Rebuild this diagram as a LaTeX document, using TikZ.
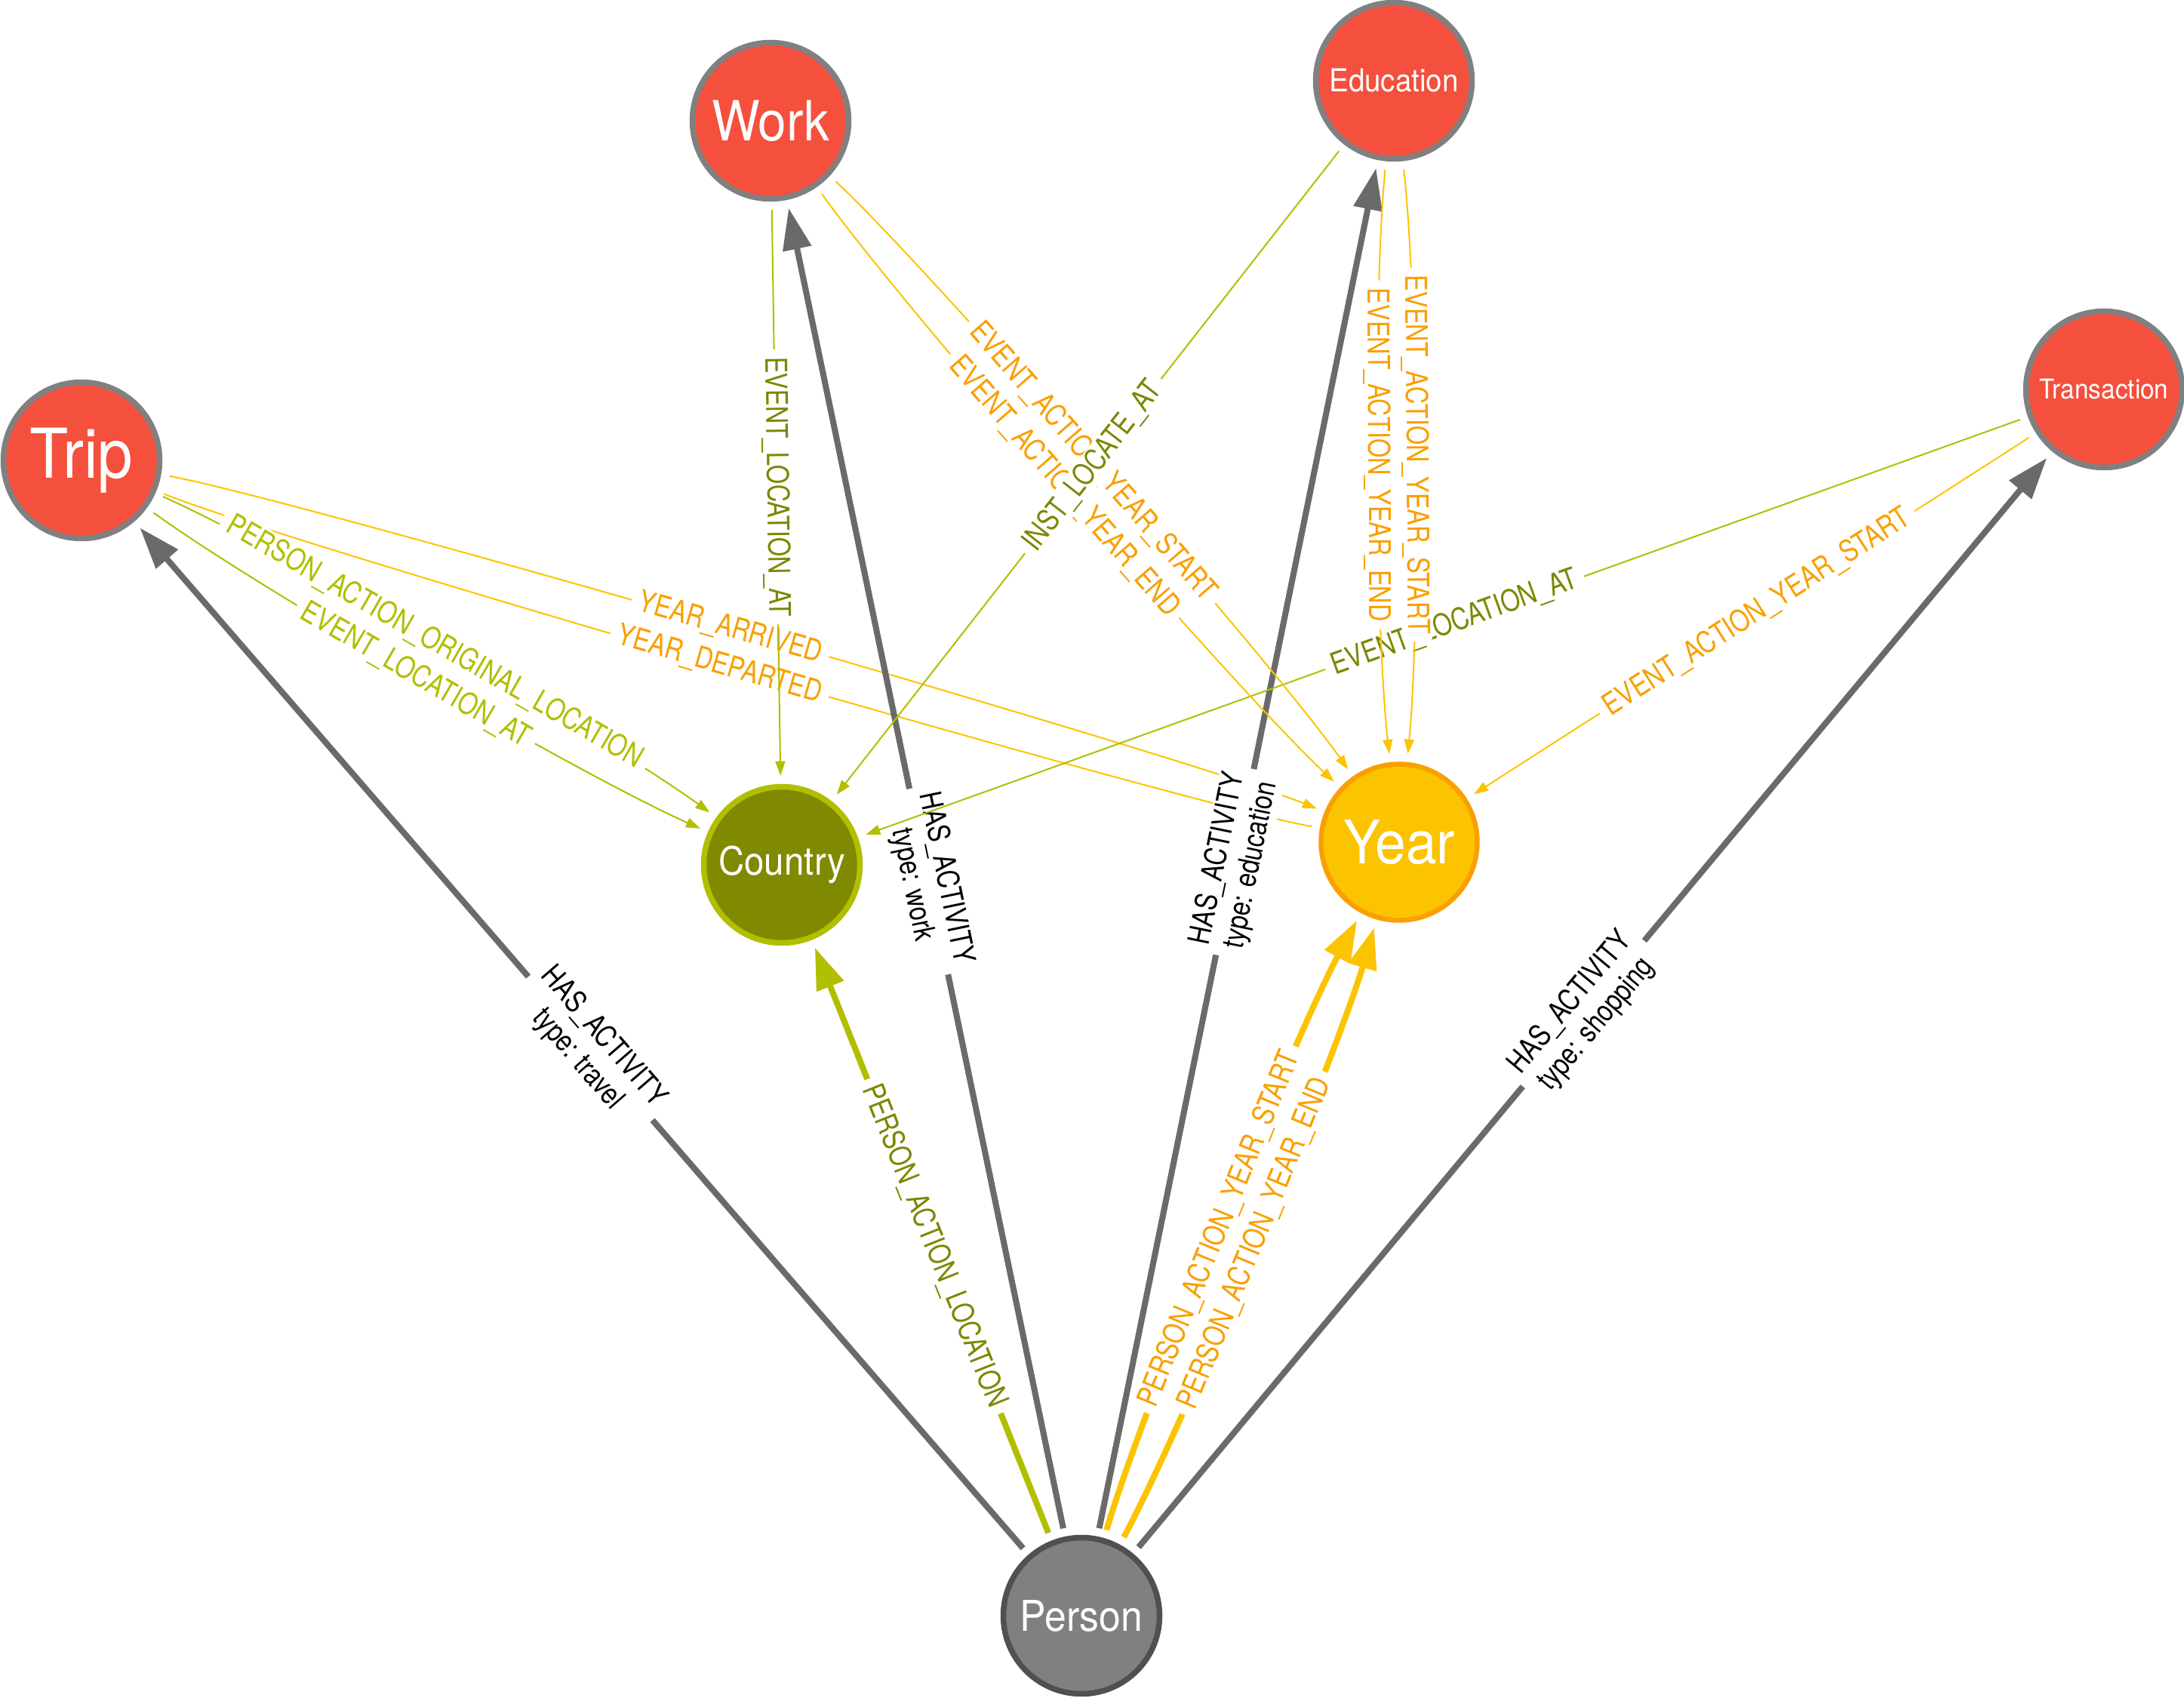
\documentclass[tikz,border=0pt]{standalone}
\usepackage{fontspec}
\setmainfont{TeX Gyre Heros}
\newfontfamily\nodefont[FakeStretch=0.92]{TeX Gyre Heros}
\newfontfamily\relfont[FakeStretch=0.82]{TeX Gyre Heros}
\usetikzlibrary{arrows.meta}
\definecolor{actcolor}{HTML}{F4503D}
\definecolor{actborder}{HTML}{808080}
\definecolor{ctrycolor}{HTML}{808A00}
\definecolor{ctryborder}{HTML}{B2BE00}
\definecolor{yearcolor}{HTML}{FCC400}
\definecolor{yearborder}{HTML}{F9A000}
\definecolor{pcolor}{HTML}{808080}
\definecolor{pborder}{HTML}{505050}
\definecolor{hascolor}{HTML}{6A6A6A}
\definecolor{loccolor}{HTML}{B2BE00}
\definecolor{loctext}{HTML}{7C8700}
\definecolor{yrline}{HTML}{FCC400}
\definecolor{yrtext}{HTML}{F9A000}

\begin{document}
\begin{tikzpicture}[
    ent/.style={circle, minimum size=2.07cm, inner sep=0pt, line width=0.075cm, text=white},
    sz/.style={font=\nodefont\fontsize{#1}{#1}\selectfont},
    act/.style={ent, fill=actcolor, draw=actborder},
    rel/.style={line width=0.02cm, shorten <=0.11cm, shorten >=0.11cm, -{Triangle[length=0.19cm, width=0.13cm]}},
    fat/.style={line width=0.08cm, shorten <=0.11cm, shorten >=0.11cm, -{Triangle[length=0.55cm, width=0.37cm]}},
    twinl/.style={bend left=6, distance=1.8cm},
    twinr/.style={bend right=6, distance=1.8cm},
    lbl/.style={sloped, pos=0.49, fill=white, text=black, inner xsep=0.1cm, inner ysep=0.02cm, rounded corners=0.05cm, align=center, font=\relfont\fontsize{11.3}{12.8}\selectfont},
  ]
    \useasboundingbox (0,0) rectangle (28.94,-22.50);

    \node[act, sz=25.9] (trip) at (1.08,-6.10) {Trip};
    \node[act, sz=20.9] (work) at (10.21,-1.60) {Work};
    \node[act, sz=11.9] (edu) at (18.47,-1.07) {Education};
    \node[act, sz=10.3] (trans) at (27.88,-5.16) {Transaction};
    \node[ent, sz=14.7, fill=ctrycolor, draw=ctryborder] (country) at (10.36,-11.46) {Country};
    \node[ent, sz=22.6, fill=yearcolor, draw=yearborder, line width=0.065cm] (year) at (18.54,-11.16) {Year};
    \node[ent, sz=16, fill=pcolor, draw=pborder] (person) at (14.33,-21.41) {Person};

    % trip
    \draw[rel, yrline] (trip) to[twinl] node[lbl, text=yrtext] {YEAR\_ARRIVED} (year);
    \draw[rel, yrline, -] (trip) to[twinr] node[lbl, text=yrtext] {YEAR\_DEPARTED} (year);
    \draw[rel, loccolor] (trip) to[twinl] node[lbl, text=loccolor] {PERSON\_ACTION\_ORIGINAL\_LOCATION} (country);
    \draw[rel, loccolor] (trip) to[twinr] node[lbl, text=loccolor] {EVENT\_LOCATION\_AT} (country);

    % person
    \draw[fat, hascolor] (person) -- node[lbl] {HAS\_ACTIVITY\\type: travel} (trip);
    \draw[fat, hascolor] (person) -- node[lbl] {HAS\_ACTIVITY\\type: work} (work);
    \draw[fat, hascolor] (person) -- node[lbl] {HAS\_ACTIVITY\\type: education} (edu);
    \draw[fat, hascolor] (person) -- node[lbl] {HAS\_ACTIVITY\\type: shopping} (trans);
    \draw[fat, loccolor] (person) -- node[lbl, text=loctext] {PERSON\_ACTION\_LOCATION} (country);
    \draw[fat, yrline] (person) to[twinl] node[lbl, text=yrtext] {PERSON\_ACTION\_YEAR\_START} (year);
    \draw[fat, yrline] (person) to[twinr] node[lbl, text=yrtext] {PERSON\_ACTION\_YEAR\_END} (year);

    % transaction
    \draw[rel, loccolor] (trans) -- node[lbl, text=loctext] {EVENT\_LOCATION\_AT} (country);
    \draw[rel, yrline] (trans) -- node[lbl, text=yrtext] {EVENT\_ACTION\_YEAR\_START} (year);

    % work
    \draw[rel, loccolor] (work) -- node[lbl, text=loctext] {EVENT\_LOCATION\_AT} (country);
    \draw[rel, yrline] (work) to[twinl] node[lbl, text=yrtext] {EVENT\_ACTION\_YEAR\_START} (year);
    \draw[rel, yrline] (work) to[twinr] node[lbl, text=yrtext] {EVENT\_ACTION\_YEAR\_END} (year);

    % education
    \draw[rel, loccolor] (edu) -- node[lbl, text=loctext] {INST\_LOCATE\_AT} (country);
    \draw[rel, yrline] (edu) to[twinl] node[lbl, text=yrtext] {EVENT\_ACTION\_YEAR\_START} (year);
    \draw[rel, yrline] (edu) to[twinr] node[lbl, text=yrtext] {EVENT\_ACTION\_YEAR\_END} (year);
\end{tikzpicture}
\end{document}
